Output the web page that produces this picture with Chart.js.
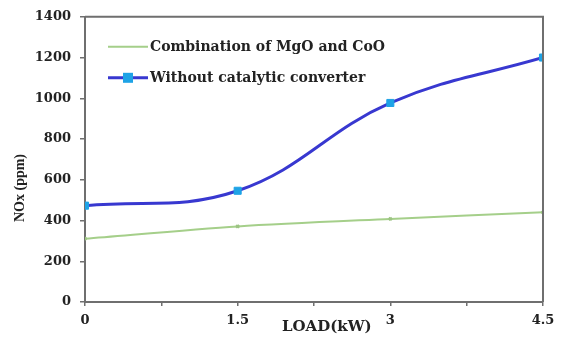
<!DOCTYPE html>
<html>
<head>
<meta charset="utf-8">
<script src="https://cdn.jsdelivr.net/npm/chart.js@4.4.0/dist/chart.umd.min.js"></script>
<style>
    body { margin: 0; background: #fff; }
    #wrap { width: 563px; height: 338px; }
</style>
</head>
<body>
<div id="wrap"><canvas id="noxChart" width="563" height="338"></canvas></div>
<script>
// Data
const loads = [0, 1.5, 3, 4.5];
const mgoCoo = [311, 371, 408, 440];
const withoutConverter = [473, 546, 977, 1200];
const seriesNames = ['Combination of MgO and CoO', 'Without catalytic converter'];
const xTitle = 'LOAD(kW)';
const yTitle = 'NOx (ppm)';

const tickFont = { family: 'DejaVu Serif', size: 13, weight: 'bold' };
const axisColor = '#6f6f6f';

// frame on top and right of the plot area
const frame = {
    id: 'frame',
    afterDraw(chart) {
        const { ctx, chartArea: a } = chart;
        ctx.save();
        ctx.strokeStyle = axisColor;
        ctx.lineWidth = 2;
        ctx.beginPath();
        ctx.moveTo(a.left, a.top);
        ctx.lineTo(a.right, a.top);
        ctx.lineTo(a.right, a.bottom);
        ctx.stroke();
        ctx.restore();
    }
};

// axis titles, placed like the original
const axisTitles = {
    id: 'axisTitles',
    afterDraw(chart) {
        const { ctx, chartArea: a } = chart;
        ctx.save();
        ctx.fillStyle = '#222';
        ctx.textAlign = 'center';
        ctx.textBaseline = 'middle';
        ctx.font = 'bold 15px "DejaVu Serif"';
        ctx.fillText(xTitle, a.left + (a.right - a.left) * 0.528, 327);
        ctx.translate(20, 188);
        ctx.rotate(-Math.PI / 2);
        ctx.font = 'bold 14px "Liberation Serif"';
        ctx.fillText(yTitle, 0, 0);
        ctx.restore();
    }
};

// legend inside the plot, top left
const insideLegend = {
    id: 'insideLegend',
    afterDraw(chart) {
        const { ctx, chartArea: a } = chart;
        ctx.save();
        ctx.font = 'bold 14px "DejaVu Serif"';
        ctx.textBaseline = 'middle';
        ctx.fillStyle = '#222';
        chart.data.datasets.forEach((ds, i) => {
            const y = a.top + 30 + i * 31;
            const x0 = a.left + 23;
            const x1 = a.left + 63;
            ctx.strokeStyle = ds.borderColor;
            ctx.lineWidth = ds.borderWidth;
            ctx.beginPath();
            ctx.moveTo(x0, y);
            ctx.lineTo(x1, y);
            ctx.stroke();
            if (ds.pointStyle === 'rect') {
                const s = ds.pointRadius;
                ctx.fillStyle = ds.pointBackgroundColor;
                ctx.fillRect((x0 + x1) / 2 - s, y - s, s * 2, s * 2);
                ctx.fillStyle = '#222';
            }
            ctx.fillText(ds.label, x1 + 2, y + 1);
        });
        ctx.restore();
    }
};

new Chart(document.getElementById('noxChart').getContext('2d'), {
    type: 'line',
    data: {
        datasets: [
            {
                label: seriesNames[0],
                data: loads.map((x, i) => ({ x, y: mgoCoo[i] })),
                borderColor: '#a5cf8a',
                backgroundColor: '#a5cf8a',
                borderWidth: 2,
                pointStyle: 'crossRot',
                pointRadius: 2,
                pointBorderColor: '#9cc483',
                tension: 0.3
            },
            {
                label: seriesNames[1],
                data: loads.map((x, i) => ({ x, y: withoutConverter[i] })),
                borderColor: '#3838d0',
                backgroundColor: '#1ea3e6',
                borderWidth: 3,
                pointStyle: 'rect',
                pointRadius: 5,
                pointBackgroundColor: '#1ea3e6',
                pointBorderColor: '#1ea3e6',
                pointBorderWidth: 1,
                tension: 0.4
            }
        ]
    },
    options: {
        responsive: false,
        animation: false,
        layout: { padding: { top: 15, right: 20, left: 0, bottom: 0 } },
        plugins: {
            legend: { display: false },
            tooltip: { enabled: false }
        },
        scales: {
            x: {
                type: 'linear',
                min: 0,
                max: 4.5,
                afterFit: s => { s.height = 36; },
                ticks: {
                    stepSize: 0.75,
                    autoSkip: false,
                    maxRotation: 0,
                    padding: 7,
                    color: '#222',
                    font: tickFont,
                    callback: v => (Math.abs(v / 1.5 - Math.round(v / 1.5)) < 1e-6 ? String(v) : '')
                },
                grid: { drawOnChartArea: false, tickLength: 4, color: axisColor, lineWidth: 1.5 },
                border: { color: axisColor, width: 2 }
            },
            y: {
                min: 0,
                max: 1400,
                afterFit: s => { s.width = 85; },
                ticks: {
                    stepSize: 200,
                    padding: 9,
                    color: '#222',
                    font: tickFont,
                    callback: v => String(v)
                },
                grid: { drawOnChartArea: false, tickLength: 5, color: axisColor, lineWidth: 1.5 },
                border: { color: axisColor, width: 2 }
            }
        }
    },
    plugins: [frame, axisTitles, insideLegend]
});
</script>
</body>
</html>
